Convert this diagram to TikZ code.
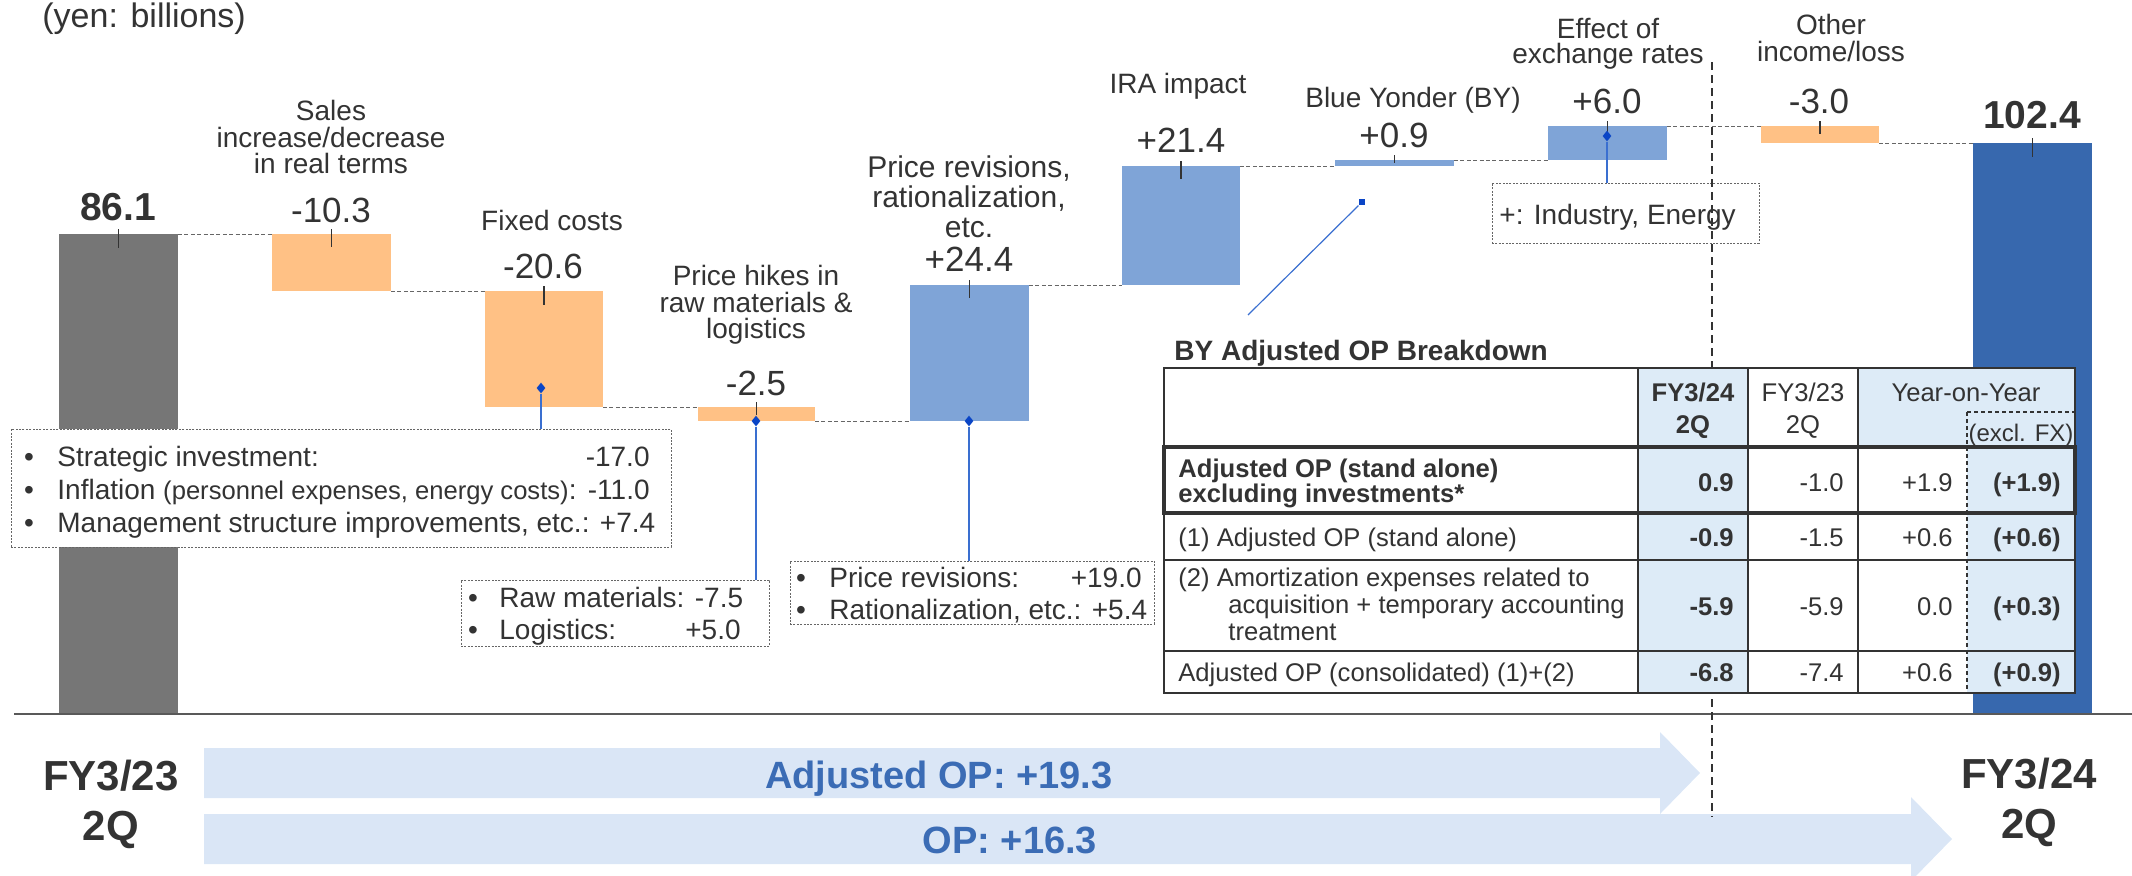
\documentclass[tikz,border=0pt]{standalone}
\usepackage{fontspec}
\setmainfont{Liberation Sans}
\usepackage{tikz}
\usetikzlibrary{shapes.geometric, arrows.meta, positioning, calc, fit}
\definecolor{txt}{HTML}{333333}
\definecolor{grayA}{HTML}{767676}
\definecolor{orangeA}{HTML}{FFC185}
\definecolor{blueA}{HTML}{7FA4D7}
\definecolor{blueB}{HTML}{3768AE}
\definecolor{flowfill}{HTML}{DAE6F6}
\definecolor{flowblue}{HTML}{3B6CB5}
\definecolor{cellblue}{HTML}{DDEBF7}
\definecolor{mkblue}{HTML}{0A45C6}
\definecolor{lnblue}{HTML}{3A6FD0}
\definecolor{dashgray}{HTML}{666666}
\tikzset{
    wbar/.style={inner sep=0pt, outer sep=0pt, draw=none},
    valtick/.style={draw=txt, line width=0.6pt},
    joinline/.style={draw=dashgray, line width=0.5pt, dash pattern=on 2pt off 1.2pt},
    val/.style={font=\fontsize{17.5}{20}\selectfont, text=txt, inner sep=0pt, anchor=base},
    total/.style={font=\fontsize{19.5}{22}\selectfont\bfseries, text=txt, inner sep=0pt, anchor=base},
    lbl/.style={font=\fontsize{14}{13.3}\selectfont, text=txt, inner sep=0pt, align=center},
    notebox/.style={draw=dashgray, line width=0.5pt, dash pattern=on 1pt off 0.7pt, fill=white, inner sep=0pt},
    notetxt/.style={font=\fontsize{14}{16}\selectfont, text=txt, inner sep=0pt, anchor=base west},
    noteval/.style={notetxt, anchor=base east},
    bul/.style={notetxt, anchor=base},
    dmark/.style={diamond, fill=mkblue, inner sep=0pt, minimum width=4.5pt, minimum height=5.5pt},
    sqmark/.style={rectangle, fill=mkblue, inner sep=0pt, minimum size=3.2pt},
    callout/.style={draw=lnblue, line width=0.6pt},
    sepline/.style={draw=txt, line width=0.7pt, dash pattern=on 4pt off 2.5pt},
    axisline/.style={draw=gray!70!black, line width=1pt},
    flow/.style={fill=flowfill},
    flowtxt/.style={font=\fontsize{19}{22}\selectfont\bfseries, text=flowblue, inner sep=0pt, anchor=base},
    period/.style={font=\fontsize{21}{25}\selectfont\bfseries, text=txt, inner sep=0pt, align=center},
    ttitle/.style={font=\fontsize{14}{16}\selectfont\bfseries, text=txt, inner sep=0pt, anchor=base west},
    tline/.style={draw=txt, line width=1pt},
    tthin/.style={draw=txt, line width=0.6pt},
    tbox/.style={draw=txt, line width=2pt},
    tdash/.style={draw=txt, line width=0.6pt, dash pattern=on 2pt off 1.5pt},
    tcell/.style={font=\fontsize{12.8}{13.5}\selectfont, text=txt, inner sep=0pt},
    tnum/.style={tcell, anchor=base east}
}

\begin{document}
\begin{tikzpicture}[x=0.5pt, y=-0.5pt]
    \useasboundingbox (0,0) rectangle (2132,875);

    % Unit
    \node[font=\fontsize{17}{19}\selectfont, text=txt, inner sep=0pt, anchor=base west] (unit) at (42,27) {(yen: billions)};

    % Waterfall bars with ticks
    \foreach \n/\xa/\ya/\xb/\yb/\col/\tk in {
        bA/59/234/178/713/grayA/7pt,
        b1/272/234/391/291/orangeA/6.5pt,
        b2/485/291/603/407/orangeA/7pt,
        b3/698/407/815/421/orangeA/4pt,
        b4/910/285/1029/421/blueA/6.5pt,
        b5/1122/166/1240/285/blueA/6.5pt,
        b6/1335/160/1454/166/blueA/1.5pt,
        b7/1548/126/1667/160/blueA/6.5pt,
        b8/1761/126/1879/143/orangeA/4pt,
        bB/1973/143/2092/713/blueB/7pt} {
        \node[wbar, fill=\col, fit={(\xa,\ya)(\xb,\yb)}] (\n) {};
        \draw[valtick] ([yshift=2.5pt]\n.north) -- ([yshift=-\tk]\n.north);
    }

    % Axis
    \draw[axisline] (14,714) -- (2132,714);

    % Level connectors
    \draw[joinline] (bA.north east) -- (b1.north west);
    \draw[joinline] (b1.south east) -- (b2.north west);
    \draw[joinline] (b2.south east) -- (b3.north west);
    \draw[joinline] (b3.south east) -- (b4.south west);
    \draw[joinline] (b4.north east) -- (b5.south west);
    \draw[joinline] (b5.north east) -- (b6.south west);
    \draw[joinline] (b6.north east) -- (b7.south west);
    \draw[joinline] (b7.north east) -- (b8.north west);
    \draw[joinline] (b8.south east) -- (bB.north west);

    % Values
    \node[total] (vA) at (118,220) {86.1};
    \node[val] (v1) at (331,222) {-10.3};
    \node[val] (v2) at (543,278) {-20.6};
    \node[val] (v3) at (756,395) {-2.5};
    \node[val] (v4) at (969,271) {+24.4};
    \node[val] (v5) at (1181,152) {+21.4};
    \node[val] (v6) at (1394,147) {+0.9};
    \node[val] (v7) at (1607,113) {+6.0};
    \node[val] (v8) at (1819,113) {-3.0};
    \node[total] (vB) at (2032,128) {102.4};

    % Item labels
    \node[lbl] (l1) at (331,137) {Sales\\increase/decrease\\in real terms};
    \node[lbl] (l2) at (552,220) {Fixed costs};
    \node[lbl] (l3) at (756,305) {Price hikes in\\raw materials \&\\logistics};
    \node[lbl, font=\fontsize{15}{15}\selectfont] (l4) at (969,197) {Price revisions,\\rationalization,\\etc.};
    \node[lbl] (l5) at (1178,86) {IRA impact};
    \node[lbl] (l6) at (1413,100) {Blue Yonder (BY)};
    \node[lbl, font=\fontsize{14}{12.5}\selectfont] (l7) at (1608,44) {Effect of\\exchange rates};
    \node[lbl] (l8) at (1831,38) {Other\\income/loss};

    % Breakdown notes
    \node[notebox, fit={(11,429)(671,547)}] (n1) {};
    \node[notebox, fit={(461,580)(769,646)}] (n2) {};
    \node[notebox, fit={(790,561)(1154,624)}] (n3) {};
    \node[notebox, fit={(1492,183)(1759,243)}] (n4) {};

    \foreach \i/\yy in {a/466, b/499, c/532} {
        \node[bul] (n1\i) at (29,\yy) {•};
    }
    \node[notetxt] (n1t1) at (57,466) {Strategic investment:};
    \node[noteval] (n1v1) at (650,466) {-17.0};
    \node[notetxt] (n1t2) at (57,499) {Inflation {\fontsize{12.8}{16}\selectfont(personnel expenses, energy costs)}:};
    \node[noteval] (n1v2) at (650,499) {-11.0};
    \node[notetxt] (n1t3) at (57,532) {Management structure improvements, etc.: +7.4};

    \node[bul] (n2a) at (473,607) {•};
    \node[bul] (n2b) at (473,639) {•};
    \node[notetxt] (n2t1) at (499,607) {Raw materials: -7.5};
    \node[notetxt] (n2t2) at (499,639) {Logistics:};
    \node[noteval] (n2v2) at (741,639) {+5.0};

    \node[bul] (n3a) at (801,587) {•};
    \node[bul] (n3b) at (801,619) {•};
    \node[notetxt] (n3t1) at (829,587) {Price revisions:};
    \node[noteval] (n3v1) at (1142,587) {+19.0};
    \node[notetxt] (n3t2) at (829,619) {Rationalization, etc.: +5.4};

    \node[notetxt] (n4t) at (1499,224) {+: Industry, Energy};

    % Markers and callout lines
    \node[dmark] (m2) at (541,388) {};
    \node[dmark] (m3) at (756,421) {};
    \node[dmark] (m4) at (969,421) {};
    \node[dmark] (m7) at (1607,136) {};
    \draw[callout] (m2) -- (m2 |- n1.north);
    \draw[callout] (m3) -- (m3 |- n2.north);
    \draw[callout] (m4) -- (m4 |- n3.north);
    \draw[callout] (m7) -- (m7 |- n4.north);
    \node[sqmark] (bysq) at (1362,202) {};
    \coordinate (byend) at (1248,315);
    \draw[callout] (bysq) -- (byend);

    % Bottom flows
    \fill[flow] (204,748) -- (1660,748) -- (1660,732) -- (1700,773) -- (1660,814) -- (1660,798) -- (204,798) -- cycle;
    \fill[flow] (204,814) -- (1911,814) -- (1911,797) -- (1952,839) -- (1911,881) -- (1911,864) -- (204,864) -- cycle;
    \node[flowtxt] (adjop) at (939,788) {Adjusted OP: +19.3};
    \node[flowtxt] (op) at (1010,853) {OP: +16.3};

    % Period split
    \draw[sepline] (1712,62) -- (1712,817);

    \node[period] (p1) at (111,804) {FY3/23\\2Q};
    \node[period] (p2) at (2029,802) {FY3/24\\2Q};

    % BY table
    \node[ttitle] (tabtitle) at (1174,360) {BY Adjusted OP Breakdown};
    \node[fit={(1164,368)(2075,693)}, fill=white, inner sep=0pt] (tab) {};
    \fill[cellblue] (1638,368) rectangle (1748,693);
    \fill[cellblue] (1858,368) rectangle (2075,447);
    \fill[cellblue] (1967,447) rectangle (2075,693);
    \draw[tthin] (1638,368) -- (1638,693) (1748,368) -- (1748,693) (1858,368) -- (1858,693);
    \draw[tdash] (1967,412) -- (2075,412) (1967,412) -- (1967,693);
    \draw[tline] (1164,560) -- (2075,560) (1164,651) -- (2075,651);
    \draw[tline] (1164,368) rectangle (2075,693);
    \draw[tbox] (1164,447) rectangle (2075,513);

    \node[tcell, font=\fontsize{12.8}{16}\selectfont\bfseries, align=center] (h1) at (1693,411) {FY3/24\\2Q};
    \node[tcell, font=\fontsize{12.8}{16}\selectfont, align=center] (h2) at (1803,411) {FY3/23\\2Q};
    \node[tcell, anchor=base] (h3) at (1966,401) {Year-on-Year};
    \node[tcell, font=\fontsize{12}{14}\selectfont, anchor=base] (h4) at (2021,441) {(excl. FX)};

    \node[tcell, font=\fontsize{12.8}{12.5}\selectfont\bfseries, align=left, anchor=west] (r1) at (1178,483) {Adjusted OP (stand alone)\\excluding investments*};
    \node[tcell, anchor=base west] (r2) at (1178,546) {(1) Adjusted OP (stand alone)};
    \node[tcell, align=left, anchor=west] (r3) at (1178,604) {(2) Amortization expenses related to\\\hspace*{25pt}acquisition + temporary accounting\\\hspace*{25pt}treatment};
    \node[tcell, anchor=base west] (r4) at (1178,681) {Adjusted OP (consolidated) (1)+(2)};

    \foreach \r/\yy/\a/\b/\c/\d in {1/491/0.9/-1.0/+1.9/{(+1.9)}, 2/546/-0.9/-1.5/+0.6/{(+0.6)}, 3/615/-5.9/-5.9/0.0/{(+0.3)}, 4/681/-6.8/-7.4/+0.6/{(+0.9)}} {
        \node[tnum, font=\fontsize{12.8}{14}\selectfont\bfseries] (ta\r) at (1734,\yy) {\a};
        \node[tnum] (tb\r) at (1844,\yy) {\b};
        \node[tnum] (tc\r) at (1953,\yy) {\c};
        \node[tnum, font=\fontsize{12.8}{14}\selectfont\bfseries] (td\r) at (2061,\yy) {\d};
    }
\end{tikzpicture}
\end{document}
